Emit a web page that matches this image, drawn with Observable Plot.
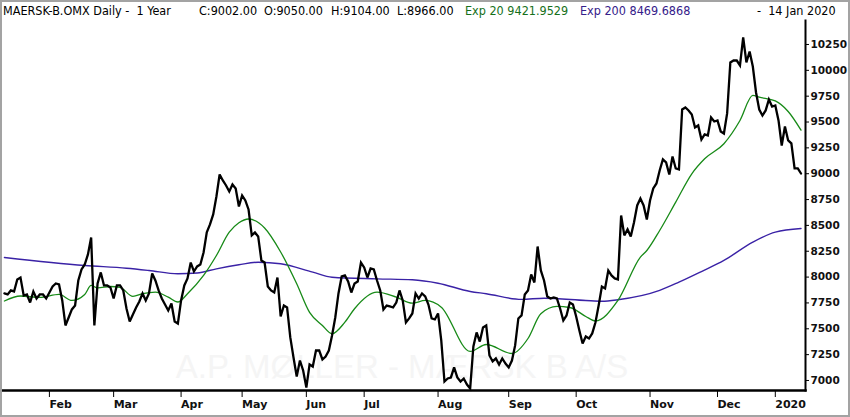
<!DOCTYPE html>
<html><head><meta charset="utf-8">
<script src="https://cdn.jsdelivr.net/npm/d3@7"></script>
<script src="https://cdn.jsdelivr.net/npm/@observablehq/plot@0.6"></script>
<style>
html,body{margin:0;padding:0;background:#fff;}
#wrap{position:relative;width:850px;height:417px;overflow:hidden;background:#fff;}
#hdr{position:absolute;left:0;top:0;width:850px;height:20px;font-family:"DejaVu Sans Condensed","DejaVu Sans",sans-serif;font-size:12.5px;white-space:pre;color:#000;}
#hdr span{position:absolute;top:3px;}
#chart{position:absolute;left:0;top:20px;}
#border{position:absolute;left:0;top:0;width:850px;height:417px;box-sizing:border-box;border:2px solid #a3a3a3;pointer-events:none;}
</style></head>
<body>
<div id="wrap">
  <div id="hdr"></div>
  <div id="chart"></div>
  <div id="border"></div>
</div>
<script>
// ---- header texts ----
const title = "MAERSK-B.OMX Daily -  1 Year";
const ohlc = ["C:9002.00", "O:9050.00", "H:9104.00", "L:8966.00"];
const ema20Label = "Exp 20 9421.9529";
const ema200Label = "Exp 200 8469.6868";
const dateLabel = "-  14 Jan 2020";

// ---- daily closes, one small array per month (trading days) ----
const closeJan19 = [7842,7832,7871,7861,7977,7996,7822,7832,7754,7861,7793,7832,7832,7793];
const closeFeb = [7851,7909,7938,7929,7774,7532,7609,7687,7725,7967,8074,8122,8219,8383,7532,7938,8045,7919,7919,7900];
const closeMar = [7793,7919,7919,7871,7696,7571,7638,7706,7764,7842,7774,7842,8035,7967,7871,7793,7735,7677,7745,7571,7551];
const closeApr = [7774,7919,7987,8141,8054,8103,8122,8238,8432,8509,8606,8780,8993,8935,8886,8828,8896,8857,8683];
const closeMay = [8790,8741,8654,8403,8432,8393,8161,8141,7909,7871,7851,7996,7619,7725,7706,7416,7222,7039,7193,7097];
const closeJun = [6932,7155,7135,7290,7290,7203,7232,7290,7435,7609,7842,8006,8016,7958,7851,7938,7958,8141];
const closeJul = [8093,7996,8083,8074,7967,7871,7687,7725,7716,7706,7754,7871,7774,7561,7600,7648,7842,7793,7842,7813,7735,7600,7590];
const closeAug = [7648,7387,6990,7019,7029,7126,7029,6990,7019,6961,6923,7329,7464,7377,7513,7532,7242,7184,7213,7155,7213,7164];
const closeSep = [7126,7193,7339,7600,7629,7832,7871,8025,7948,8296,8064,7967,7813,7793,7803,7793,7696,7580,7629,7754,7735];
const closeOct = [7619,7484,7358,7426,7406,7455,7561,7725,7909,7890,8064,8016,7987,7977,8596,8403,8461,8393,8528,8693,8760,8693,8557];
const closeNov = [8741,8857,8906,9031,9138,9109,8993,9167,9051,9041,9621,9641,9612,9573,9447,9467,9331,9380,9370,9544,9505];
const closeDec = [9515,9409,9389,9583,10076,10095,10095,10047,10318,10076,10182,10037,9786,9621,9563,9612,9718,9650];
const closeJan20 = [9660,9515,9273,9457,9322,9293,9051,9051,9002];

const months = [closeJan19, closeFeb, closeMar, closeApr, closeMay, closeJun, closeJul, closeAug, closeSep, closeOct, closeNov, closeDec, closeJan20];
const monthLabels = [null, "Feb", "Mar", "Apr", "May", "Jun", "Jul", "Aug", "Sep", "Oct", "Nov", "Dec", "2020"];

// ---- moving averages (trading-day index, value) ----
const ema20Day = [0,5,11,17,21,25,27,29,33,36,40,43,47,51,54,57,62,66,70,73,76,81,86,91,95,99,102,106,109,116,122,127,131,136,145,150,158,163,167,172,176,181,184,191,198,200,204,209,214,218,224,229,233,235,240,244,248];
const ema20 = [7769,7817,7803,7832,7774,7832,7919,7895,7909,7900,7813,7839,7854,7806,7759,7839,8016,8209,8434,8525,8562,8475,8243,7935,7658,7532,7452,7564,7694,7854,7806,7748,7774,7709,7281,7348,7261,7406,7645,7716,7706,7619,7576,7774,8193,8257,8451,8725,8999,9144,9290,9515,9757,9740,9704,9602,9422];
const ema200Day = [0,25,38,45,54,60,66,73,79,86,96,102,116,127,135,145,150,161,168,181,186,191,204,210,217,224,233,240,248];
const ema200 = [8189,8112,8086,8064,8032,8040,8080,8119,8144,8129,8048,7999,7983,7974,7941,7861,7839,7784,7796,7774,7767,7781,7871,7951,8054,8161,8338,8435,8470];

const yTicks = [7000,7250,7500,7750,8000,8250,8500,8750,9000,9250,9500,9750,10000,10250];
const watermark = "A.P. MØLLER - MÆRSK B A/S";

// ---- build tables ----
const closeData = [];
const monthStart = [];
months.forEach((arr, m) => {
  monthStart.push(closeData.length);
  arr.forEach(v => closeData.push({i: closeData.length, v}));
});
const tickIdx = monthStart.slice(1);
const tickLab = monthLabels.slice(1);
const ema20Data = ema20Day.map((d, k) => ({i: d, v: ema20[k]}));
const ema200Data = ema200Day.map((d, k) => ({i: d, v: ema200[k]}));

// ---- header ----
const hdr = document.getElementById("hdr");
const parts = [
  [title, 3, "#000"],
  [ohlc[0], 199, "#000"], [ohlc[1], 264, "#000"], [ohlc[2], 331, "#000"], [ohlc[3], 397, "#000"],
  [ema20Label, 465, "#16701a"],
  [ema200Label, 580, "#35208a"],
  [dateLabel, 757, "#000"]
];
parts.forEach(([t, x, c]) => {
  const s = document.createElement("span");
  s.textContent = t; s.style.left = x + "px"; s.style.color = c;
  hdr.appendChild(s);
});

// ---- chart ----
const font = "DejaVu Sans, sans-serif";
const chart = Plot.plot({
  width: 850, height: 397,
  marginTop: 0, marginBottom: 27, marginLeft: 2, marginRight: 45,
  style: {background: "transparent", fontFamily: font, overflow: "visible"},
  x: {domain: [-0.6, 249.4], axis: null},
  y: {domain: [6903, 10482], axis: null},
  marks: [
    Plot.text([watermark], {frameAnchor: "bottom", lineAnchor: "bottom", dx: -2, dy: -13, fontSize: 33, fill: "#f5f5f5", fontFamily: "Liberation Sans, sans-serif"}),
    Plot.line(ema200Data, {x: "i", y: "v", stroke: "#3a22a6", strokeWidth: 1.4, curve: "monotone-x"}),
    Plot.line(ema20Data, {x: "i", y: "v", stroke: "#178a17", strokeWidth: 1.3, curve: "monotone-x"}),
    Plot.line(closeData, {x: "i", y: "v", stroke: "#000", strokeWidth: 2.3, strokeLinejoin: "miter", strokeMiterlimit: 3}),
    Plot.axisY(yTicks, {anchor: "right", label: null, tickSize: 3, tickPadding: 2, fontSize: 10.5, fontWeight: "bold", fill: "#111", tickFormat: d => String(d)}),
    Plot.axisX(tickIdx, {anchor: "bottom", label: null, tickSize: 7, tickPadding: 3, fontSize: 11, fontWeight: "bold", textAnchor: "start", fill: "#111", tickFormat: (d, k) => tickLab[k]}),
    Plot.frame({anchor: "right", stroke: "#000", strokeWidth: 2}),
    Plot.frame({anchor: "bottom", stroke: "#000", strokeWidth: 2.5})
  ]
});
document.getElementById("chart").appendChild(chart);
</script>
</body></html>
